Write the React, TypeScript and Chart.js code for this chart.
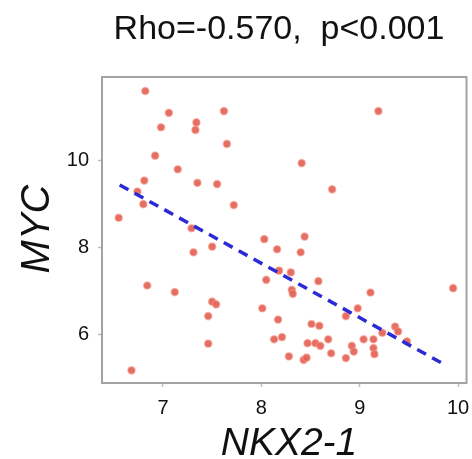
import React, { useEffect, useRef } from "react";
import { Chart, registerables } from "chart.js";

Chart.register(...registerables);

const titleText = "Rho=-0.570,  p<0.001";
const xTitle = "NKX2-1";
const yTitle = "MYC";

const xTicks = [7, 8, 9, 10];
const yTicks = [6, 8, 10];

const nkx = [
  6.82, 7.06, 7.62, 6.98, 7.34, 7.33, 7.65, 6.92, 7.15, 6.81, 7.35, 7.55, 6.74, 6.8, 6.55,
  7.72, 7.29, 8.03, 8.16, 7.31, 7.5, 9.19, 8.41, 8.72, 8.44, 8.4, 6.84, 7.12, 7.5, 7.54,
  7.46, 8.05, 8.01, 8.17, 8.13, 8.21, 7.46, 8.28, 6.68, 8.18, 8.3, 8.58, 8.31, 8.32, 9.11,
  9.95, 8.98, 8.86, 8.51, 8.59, 9.36, 9.39, 9.23, 9.48, 8.68, 9.04, 9.14, 8.47, 8.55, 8.6,
  8.92, 8.94, 9.14, 9.15, 8.71, 8.43, 8.46, 8.86,
];
const myc = [
  11.58, 11.08, 11.12, 10.75, 10.86, 10.69, 10.37, 10.1, 9.79, 9.53, 9.48, 9.45, 9.28, 8.99, 8.68,
  8.97, 8.44, 8.19, 7.96, 7.89, 8.02, 11.12, 9.93, 9.33, 8.25, 7.89, 7.13, 6.98, 6.76, 6.7,
  6.43, 7.26, 6.61, 6.35, 5.9, 5.95, 5.8, 5.51, 5.19, 7.47, 7.43, 7.23, 7.03, 6.94, 6.97,
  7.07, 6.61, 6.43, 6.25, 6.21, 6.19, 6.08, 6.05, 5.85, 5.9, 5.9, 5.9, 5.81, 5.81, 5.75,
  5.75, 5.62, 5.7, 5.56, 5.58, 5.43, 5.48, 5.47,
];

const fitX = [6.56, 9.88];
const fitY = [9.43, 5.3];

const X_MIN = 6.38;
const X_MAX = 10.086;
const Y_MIN = 4.9;
const Y_MAX = 11.9;

const textPlugin = {
  id: "texts",
  beforeDatasetsDraw(chart: any) {
    const { ctx, chartArea } = chart;
    ctx.save();
    ctx.strokeStyle = "#a3a3a3";
    ctx.lineWidth = 2;
    ctx.strokeRect(chartArea.left, chartArea.top, chartArea.right - chartArea.left, chartArea.bottom - chartArea.top);
    ctx.restore();
  },
  afterDraw(chart: any) {
    const { ctx } = chart;
    ctx.save();
    ctx.fillStyle = "#111";
    ctx.textAlign = "center";
    ctx.textBaseline = "alphabetic";
    ctx.font = '34px "Liberation Sans", Arial, sans-serif';
    ctx.fillText(titleText, 279, 39);
    ctx.font = 'italic 39px "Liberation Sans", Arial, sans-serif';
    ctx.fillText(xTitle, 289, 455);
    ctx.translate(49, 229);
    ctx.rotate(-Math.PI / 2);
    ctx.font = 'italic 40px "Liberation Sans", Arial, sans-serif';
    ctx.fillText(yTitle, 0, 0);
    ctx.restore();
  },
};

export default function App() {
  const ref = useRef<HTMLCanvasElement | null>(null);
  useEffect(() => {
    document.body.style.margin = "0";
    const canvas = ref.current;
    if (!canvas) return;
    const points = nkx.map((x, i) => ({ x, y: myc[i] }));
    const fit = fitX.map((x, i) => ({ x, y: fitY[i] }));
    const tickFont = { family: '"Liberation Sans", Arial, sans-serif', size: 20 };
    const chart = new Chart(canvas, {
      type: "scatter",
      data: {
        datasets: [
          {
            data: points,
            backgroundColor: "rgba(226,98,88,0.92)",
            borderColor: "rgba(245,150,130,0.55)",
            borderWidth: 1.5,
            pointRadius: 3.6,
            order: 2,
          },
          {
            type: "line",
            data: fit,
            borderColor: "#2b2bd6",
            borderWidth: 3.5,
            borderDash: [10, 7],
            pointRadius: 0,
            fill: false,
            order: 1,
          } as any,
        ],
      },
      options: {
        animation: false,
        responsive: false,
        maintainAspectRatio: false,
        layout: { padding: { top: 77, right: 3, left: 0, bottom: 0 } },
        plugins: { legend: { display: false }, tooltip: { enabled: false }, title: { display: false } },
        scales: {
          x: {
            type: "linear",
            min: X_MIN,
            max: X_MAX,
            afterBuildTicks: (s: any) => {
              s.ticks = xTicks.map((v) => ({ value: v }));
            },
            afterFit: (s: any) => {
              s.height = 76;
              s.paddingLeft = 0;
              s.paddingRight = 0;
            },
            grid: { drawOnChartArea: false, drawTicks: true, tickLength: 4, tickColor: "#bdbdbd", tickWidth: 1.5 },
            border: { display: false },
            ticks: { font: tickFont, color: "#111", padding: 9, maxRotation: 0, autoSkip: false },
          },
          y: {
            type: "linear",
            min: Y_MIN,
            max: Y_MAX,
            afterBuildTicks: (s: any) => {
              s.ticks = yTicks.map((v) => ({ value: v }));
            },
            afterFit: (s: any) => {
              s.width = 102;
              s.paddingTop = 0;
              s.paddingBottom = 0;
            },
            grid: { drawOnChartArea: false, drawTicks: true, tickLength: 4, tickColor: "#bdbdbd", tickWidth: 1.5 },
            border: { display: false },
            ticks: { font: tickFont, color: "#111", padding: 9, autoSkip: false },
          },
        },
      },
      plugins: [textPlugin],
    });
    return () => chart.destroy();
  }, []);
  return (
    <div style={{ width: 472, height: 459, background: "#fff" }}>
      <canvas ref={ref} width={472} height={459} style={{ display: "block" }} />
    </div>
  );
}
